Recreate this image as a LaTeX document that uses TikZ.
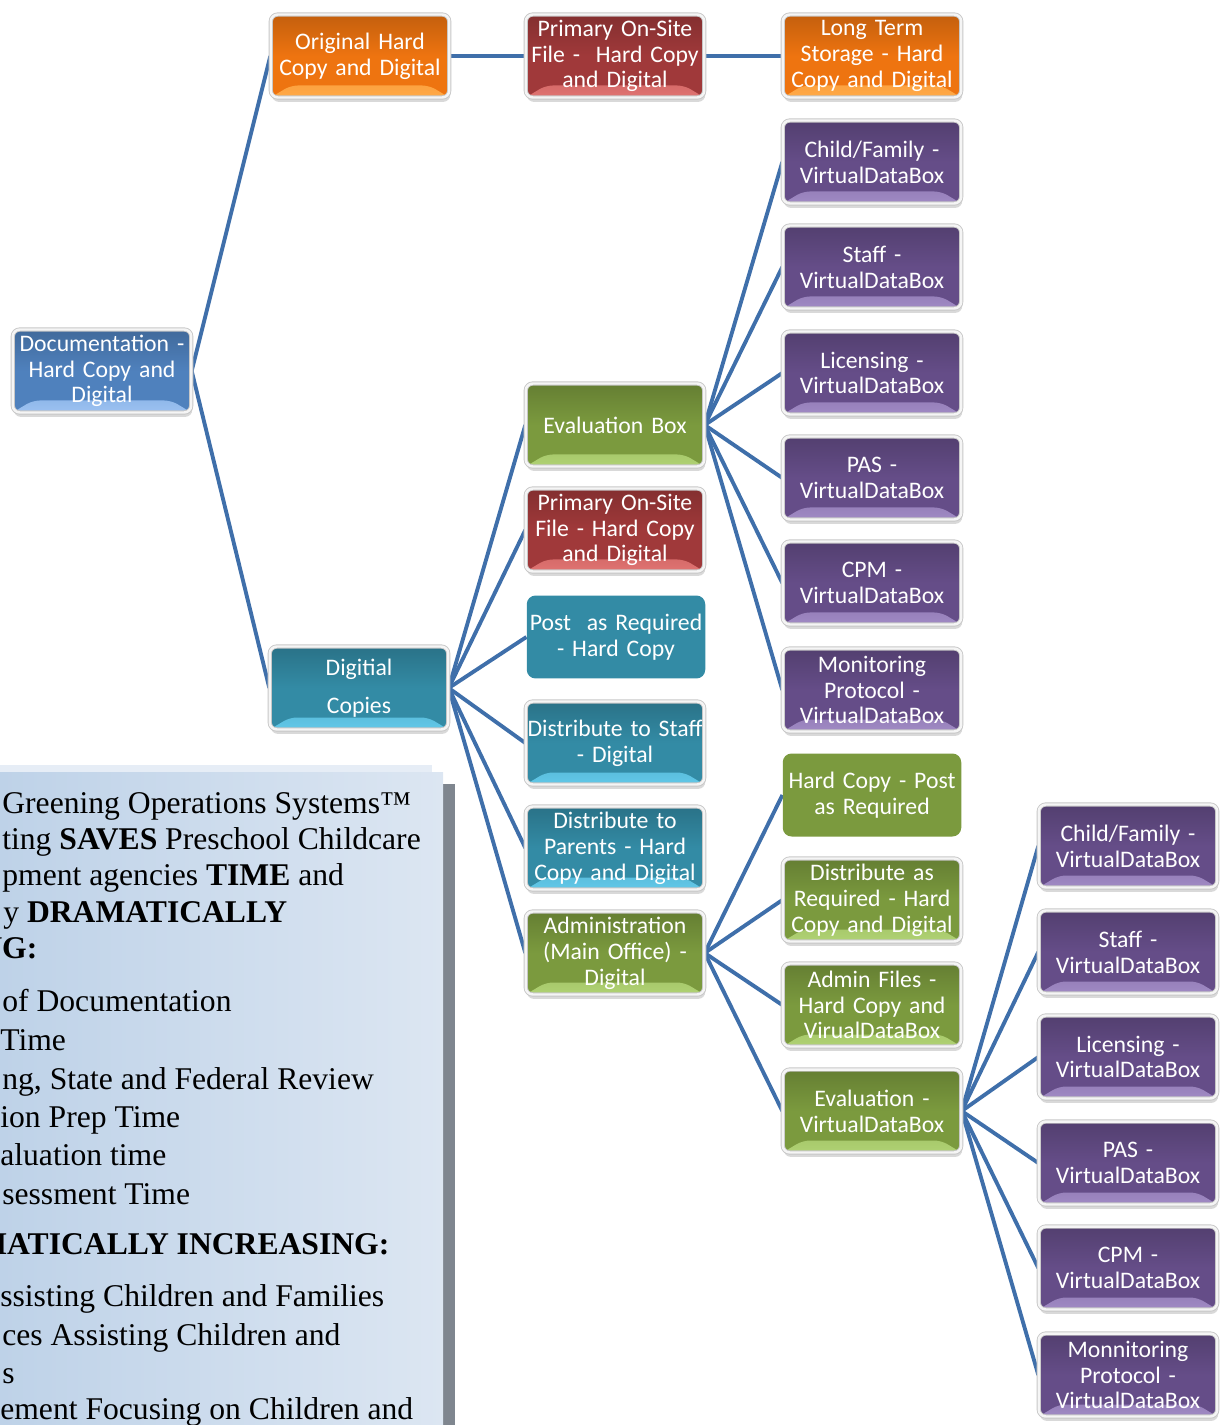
\documentclass[tikz,border=0pt]{standalone}
\usepackage{fontspec}
\setmainfont{Liberation Serif}
\newfontfamily\boxfont[WordSpace=0.8]{Carlito}
\usetikzlibrary{shadows,backgrounds}

\definecolor{linkblue}{HTML}{3F6FAA}
\definecolor{docblue}{HTML}{4F81BD}
\definecolor{doclight}{HTML}{9CC2F2}
\definecolor{orgbase}{HTML}{EE7410}
\definecolor{orglight}{HTML}{FFAA48}
\definecolor{redbase}{HTML}{A0393A}
\definecolor{redlight}{HTML}{E07472}
\definecolor{purpbase}{HTML}{654D88}
\definecolor{purplight}{HTML}{A08AC4}
\definecolor{grnbase}{HTML}{7B9A3E}
\definecolor{grnlight}{HTML}{B0D274}
\definecolor{tealbase}{HTML}{338BA5}
\definecolor{teallight}{HTML}{62C8E8}
\definecolor{noteleft}{HTML}{BED2E8}
\definecolor{noteright}{HTML}{DCE6F2}
\definecolor{notetop}{HTML}{E6EDF6}
\definecolor{noteedge}{HTML}{7F868F}

\tikzset{
  box/.style={rectangle, rounded corners=4pt, minimum width=3.5cm, minimum height=1.66cm,
    text width=3.5cm, align=center, text=white, inner sep=1pt,
    font=\boxfont\fontsize{13.5}{14.7}\selectfont},
  bevel/.style 2 args={box, draw=black!22, double=white!96!black, double distance=1.4pt, line width=0.5pt,
    top color=#1!82!black, bottom color=#1, middle color=#1,
    drop shadow={opacity=0.3, shadow xshift=0.6pt, shadow yshift=-2.5pt},
    path picture={\shade[top color=#1, bottom color=#2]
      ([xshift=0.4cm, yshift=0.24cm]path picture bounding box.south west) --
      ([xshift=-0.4cm, yshift=0.24cm]path picture bounding box.south east) --
      (path picture bounding box.south east) -- (path picture bounding box.south west) -- cycle;}},
  flat/.style={box, fill=#1, rounded corners=5pt},
  link/.style={draw=linkblue, line width=2.2pt},
  note/.style={anchor=base west, inner sep=0pt, font=\fontsize{18}{20}\selectfont}
}

\begin{document}
\begin{tikzpicture}[x=0.02cm, y=-0.02cm]
	\useasboundingbox (0,0) rectangle (1224,1425);

	% text panel
	\fill[notetop] (0,765) rectangle (432,773);
	\fill[noteedge] (443,784) rectangle (455,1425);
	\shade[left color=noteleft, right color=noteright] (0,772) rectangle (443,1425);
	\begin{scope}
		\clip (0,772) rectangle (443,1425);
		\foreach \x/\y/\t [count=\i] in {
			2/813/{Greening Operations Systems™},
			2/849/{ting \textbf{SAVES} Preschool Childcare},
			2/885/{pment agencies \textbf{TIME} and},
			3/922/{y \textbf{DRAMATICALLY}},
			-21/958/{\textbf{NG:}},
			2/1011/{of Documentation},
			0/1050/{Time},
			2/1089/{ng, State and Federal Review},
			0/1127/{ion Prep Time},
			0/1165/{aluation time},
			2/1204/{sessment Time},
			-23/1254/{\textbf{MATICALLY INCREASING:}},
			0/1306/{ssisting Children and Families},
			2/1345/{ces Assisting Children and},
			2/1383/{s},
			0/1419/{ement Focusing on Children and}}
			\node[note] (note\i) at (\x,\y) {\t};
	\end{scope}

	% first levels
	\node[bevel={docblue}{doclight}] (doc) at (102,371) {Documentation -\\Hard Copy and\\Digital};
	\node[bevel={orgbase}{orglight}] (orig) at (360,56) {Original Hard\\Copy and Digital};
	\node[bevel={redbase}{redlight}] (prim) at (615,56) {Primary On-Site\\File -\ \ Hard Copy\\and Digital};
	\node[bevel={orgbase}{orglight}] (longterm) at (872,56) {Long Term\\Storage - Hard\\Copy and Digital};
	\node[bevel={tealbase}{teallight}] (digital) at (359,688) {Digitial\\[7pt]Copies};

	% digital copies branch
	\node[bevel={grnbase}{grnlight}] (evalbox) at (615,425) {Evaluation Box};
	\node[bevel={redbase}{redlight}] (primb) at (615,530) {Primary On-Site\\File - Hard Copy\\and Digital};
	\node[flat=tealbase] (post) at (616,637) {Post\ \ as Required\\- Hard Copy};
	\node[bevel={tealbase}{teallight}] (diststaff) at (615,743) {Distribute to Staff\\- Digital};
	\node[bevel={tealbase}{teallight}] (distparents) at (615,848) {Distribute to\\Parents - Hard\\Copy and Digital};
	\node[bevel={grnbase}{grnlight}] (admin) at (615,953) {Administration\\(Main Office) -\\Digital};

	% admin branch
	\node[flat=grnbase] (hcpost) at (872,795) {Hard Copy - Post\\as Required};
	\node[bevel={grnbase}{grnlight}] (distreq) at (872,900) {Distribute as\\Required - Hard\\Copy and Digital};
	\node[bevel={grnbase}{grnlight}] (adminfiles) at (872,1005) {Admin Files -\\Hard Copy and\\VirualDataBox};
	\node[bevel={grnbase}{grnlight}] (evalvdb) at (872,1111) {Evaluation -\\VirtualDataBox};

	% virtual data boxes
	\foreach \y/\t [count=\i] in {162/{Child/Family -}, 267/{Staff -}, 373/{Licensing -},
			478/{PAS -}, 583/{CPM -}, 690/{Monitoring\\Protocol -}}
		\node[bevel={purpbase}{purplight}] (pa\i) at (872,\y) {\t\\VirtualDataBox};
	\foreach \y/\t [count=\i] in {846/{Child/Family -}, 952/{Staff -}, 1057/{Licensing -},
			1163/{PAS -}, 1268/{CPM -}, 1375/{Monnitoring\\Protocol -}}
		\node[bevel={purpbase}{purplight}] (pb\i) at (1128,\y) {\t\\VirtualDataBox};

	\begin{scope}[on background layer]
		\draw[link] (doc.east) -- (orig.west);
		\draw[link] (doc.east) -- (digital.west);
		\draw[link] (orig.east) -- (prim.west);
		\draw[link] (prim.east) -- (longterm.west);
		\foreach \n in {evalbox,primb,post,diststaff,distparents,admin}
			\draw[link] (digital.east) -- (\n.west);
		\foreach \n in {hcpost,distreq,adminfiles,evalvdb}
			\draw[link] (admin.east) -- (\n.west);
		\foreach \i in {1,...,6} {
			\draw[link] (evalbox.east) -- (pa\i.west);
			\draw[link] (evalvdb.east) -- (pb\i.west);
		}
	\end{scope}
\end{tikzpicture}
\end{document}
